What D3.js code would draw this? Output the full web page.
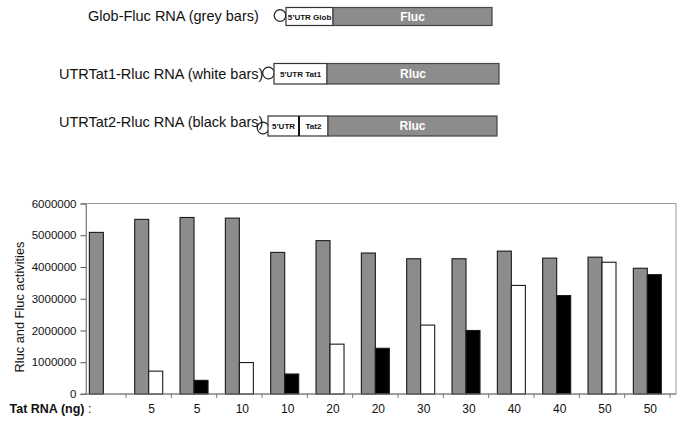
<!DOCTYPE html>
<html>
<head>
<meta charset="utf-8">
<script src="https://cdn.jsdelivr.net/npm/d3@7"></script>
<style>
  body { margin: 0; background: #fff; }
  svg { font-family: "Liberation Sans", Arial, sans-serif; }
</style>
</head>
<body>
<svg width="685" height="424"></svg>
<script>
// doses of Tat RNA, one per group (first group has no Tat RNA)
var doses = ['', '5', '5', '10', '10', '20', '20', '30', '30', '40', '40', '50', '50']
// Fluc (Glob-Fluc, grey bars)
var fluc = [5090000, 5500000, 5560000, 5540000, 4460000, 4830000, 4440000, 4260000, 4260000, 4500000, 4280000, 4310000, 3960000]
// Rluc, second bar of each group
var rluc = [null, 720000, 430000, 990000, 630000, 1570000, 1440000, 2170000, 2000000, 3420000, 3100000, 4150000, 3760000]
// which construct the second bar is: 'w' = UTRTat1 (white), 'b' = UTRTat2 (black)
var rlucType = ['', 'w', 'b', 'w', 'b', 'w', 'b', 'w', 'b', 'w', 'b', 'w', 'b']
var yTicks = [0, 1000000, 2000000, 3000000, 4000000, 5000000, 6000000]

// constructs drawn on top
var constructs = [
  {label: 'Glob-Fluc RNA (grey bars)', utr: ['5\u2019UTR Glob'], gene: 'Fluc'},
  {label: 'UTRTat1-Rluc RNA (white bars)', utr: ['5\u2019UTR Tat1'], gene: 'Rluc'},
  {label: 'UTRTat2-Rluc RNA (black bars)', utr: ['5\u2019UTR', 'Tat2'], gene: 'Rluc'}
]

var svg = d3.select('svg')

/* ---------- schematic of the RNAs ---------- */
var rows = [
  {ty: 21, cx: 280, cy: 15.5, x0: 286, x1: 333, x2: 492, y0: 7.5, y1: 25.5, split: null},
  {ty: 79, cx: 268.5, cy: 73, x0: 274, x1: 327, x2: 499, y0: 63.5, y1: 84, split: null},
  {ty: 127, cx: 263, cy: 128, x0: 268, x1: 328, x2: 497, y0: 116, y1: 136, split: 299}
]
var tx = [88, 59, 59]

var g = svg.selectAll('g.construct')
  .data(constructs)
  .enter()
  .append('g')
  .attr('class', 'construct')

g.append('text')
  .attr('x', function(d, i) { return tx[i] })
  .attr('y', function(d, i) { return rows[i].ty })
  .attr('font-size', 14.5)
  .attr('fill', '#111')
  .text(function(d) { return d.label })

g.append('circle')
  .attr('cx', function(d, i) { return rows[i].cx })
  .attr('cy', function(d, i) { return rows[i].cy })
  .attr('r', 5.8)
  .attr('fill', 'none')
  .attr('stroke', '#222')
  .attr('stroke-width', 1.2)

g.append('rect')
  .attr('x', function(d, i) { return rows[i].x0 })
  .attr('y', function(d, i) { return rows[i].y0 })
  .attr('width', function(d, i) { return rows[i].x1 - rows[i].x0 })
  .attr('height', function(d, i) { return rows[i].y1 - rows[i].y0 })
  .attr('fill', '#fff')
  .attr('stroke', '#333')
  .attr('stroke-width', 1.2)

g.append('rect')
  .attr('x', function(d, i) { return rows[i].x1 })
  .attr('y', function(d, i) { return rows[i].y0 })
  .attr('width', function(d, i) { return rows[i].x2 - rows[i].x1 })
  .attr('height', function(d, i) { return rows[i].y1 - rows[i].y0 })
  .attr('fill', '#8c8c8c')
  .attr('stroke', '#444')
  .attr('stroke-width', 1.2)

g.append('text')
  .attr('x', function(d, i) { return (rows[i].x1 + rows[i].x2) / 2 })
  .attr('y', function(d, i) { return (rows[i].y0 + rows[i].y1) / 2 + 4.3 })
  .attr('text-anchor', 'middle')
  .attr('font-size', 12)
  .attr('font-weight', 'bold')
  .attr('fill', '#fff')
  .text(function(d) { return d.gene })

g.each(function(d, i) {
  var r = rows[i], sel = d3.select(this)
  var cy = (r.y0 + r.y1) / 2 + 3
  if (r.split === null) {
    sel.append('text')
      .attr('x', (r.x0 + r.x1) / 2)
      .attr('y', cy)
      .attr('text-anchor', 'middle')
      .attr('font-size', 8)
      .attr('font-weight', 'bold')
      .attr('fill', '#111')
      .text(d.utr[0])
  } else {
    sel.append('line')
      .attr('x1', r.split).attr('x2', r.split)
      .attr('y1', r.y0).attr('y2', r.y1)
      .attr('stroke', '#111').attr('stroke-width', 2)
    sel.append('text')
      .attr('x', (r.x0 + r.split) / 2).attr('y', cy)
      .attr('text-anchor', 'middle').attr('font-size', 8).attr('font-weight', 'bold')
      .attr('fill', '#111').text(d.utr[0])
    sel.append('text')
      .attr('x', (r.split + r.x1) / 2).attr('y', cy)
      .attr('text-anchor', 'middle').attr('font-size', 8).attr('font-weight', 'bold')
      .attr('fill', '#111').text(d.utr[1])
  }
})

/* ---------- bar chart ---------- */
var plotL = 86, plotR = 676, plotT = 203.5, plotB = 394

var x = d3.scaleBand()
  .domain(d3.range(doses.length))
  .range([80.7, 670])
  .paddingInner(0)
var barW = 14
var off = (x.bandwidth() - 2 * barW) / 2

var y = d3.scaleLinear()
  .domain([0, 6000000])
  .range([plotB, plotT])

// frame
svg.append('rect')
  .attr('x', plotL).attr('y', plotT)
  .attr('width', plotR - plotL).attr('height', plotB - plotT)
  .attr('fill', 'none').attr('stroke', '#999').attr('stroke-width', 1)

var yAxis = svg.append('g')
  .attr('transform', 'translate(' + plotL + ',0)')
  .call(d3.axisLeft(y).tickValues(yTicks).tickFormat(d3.format('d')).tickSize(5.5).tickPadding(4))
yAxis.select('.domain').attr('stroke', '#888')
yAxis.selectAll('.tick line').attr('stroke', '#555')
yAxis.selectAll('text').attr('font-size', 11.5).attr('fill', '#111')
  .attr('font-family', '"Liberation Sans", Arial, sans-serif')

// grey bars
svg.selectAll('rect.fluc')
  .data(fluc)
  .enter()
  .append('rect')
  .attr('class', 'fluc')
  .attr('x', function(d, i) { return x(i) + off })
  .attr('y', function(d) { return y(d) })
  .attr('width', barW)
  .attr('height', function(d) { return y(0) - y(d) })
  .attr('fill', '#8c8c8c')
  .attr('stroke', '#1a1a1a')
  .attr('stroke-width', 1.1)

// white / black bars
svg.selectAll('rect.rluc')
  .data(rluc.map(function(v, i) { return {v: v, i: i, t: rlucType[i]} }).filter(function(d) { return d.v !== null }))
  .enter()
  .append('rect')
  .attr('class', 'rluc')
  .attr('x', function(d) { return x(d.i) + off + barW })
  .attr('y', function(d) { return y(d.v) })
  .attr('width', barW)
  .attr('height', function(d) { return y(0) - y(d.v) })
  .attr('fill', function(d) { return d.t === 'b' ? '#000' : '#fff' })
  .attr('stroke', '#1a1a1a')
  .attr('stroke-width', 1.1)

// baseline and category ticks
svg.append('line')
  .attr('x1', 80.7).attr('x2', plotR)
  .attr('y1', plotB).attr('y2', plotB)
  .attr('stroke', '#777')
svg.selectAll('line.xtick')
  .data(d3.range(1, doses.length + 1))
  .enter()
  .append('line')
  .attr('class', 'xtick')
  .attr('x1', function(d) { return x.range()[0] + d * x.bandwidth() })
  .attr('x2', function(d) { return x.range()[0] + d * x.bandwidth() })
  .attr('y1', plotB).attr('y2', plotB + 4)
  .attr('stroke', '#777')

svg.selectAll('text.dose')
  .data(doses)
  .enter()
  .append('text')
  .attr('class', 'dose')
  .attr('x', function(d, i) { return x(i) + x.bandwidth() / 2 + 3 })
  .attr('y', 412.5)
  .attr('text-anchor', 'middle')
  .attr('font-size', 12)
  .attr('fill', '#111')
  .text(function(d) { return d })

var lab = svg.append('text')
  .attr('x', 9.5).attr('y', 412.5)
  .attr('font-size', 12.5)
  .attr('fill', '#111')
lab.append('tspan').attr('font-weight', 'bold').text('Tat RNA (ng)')
lab.append('tspan').text(' :')

svg.append('text')
  .attr('transform', 'translate(24,307) rotate(-90)')
  .attr('text-anchor', 'middle')
  .attr('font-size', 12.8)
  .attr('fill', '#111')
  .text('Rluc and Fluc activities')
</script>
</body>
</html>
